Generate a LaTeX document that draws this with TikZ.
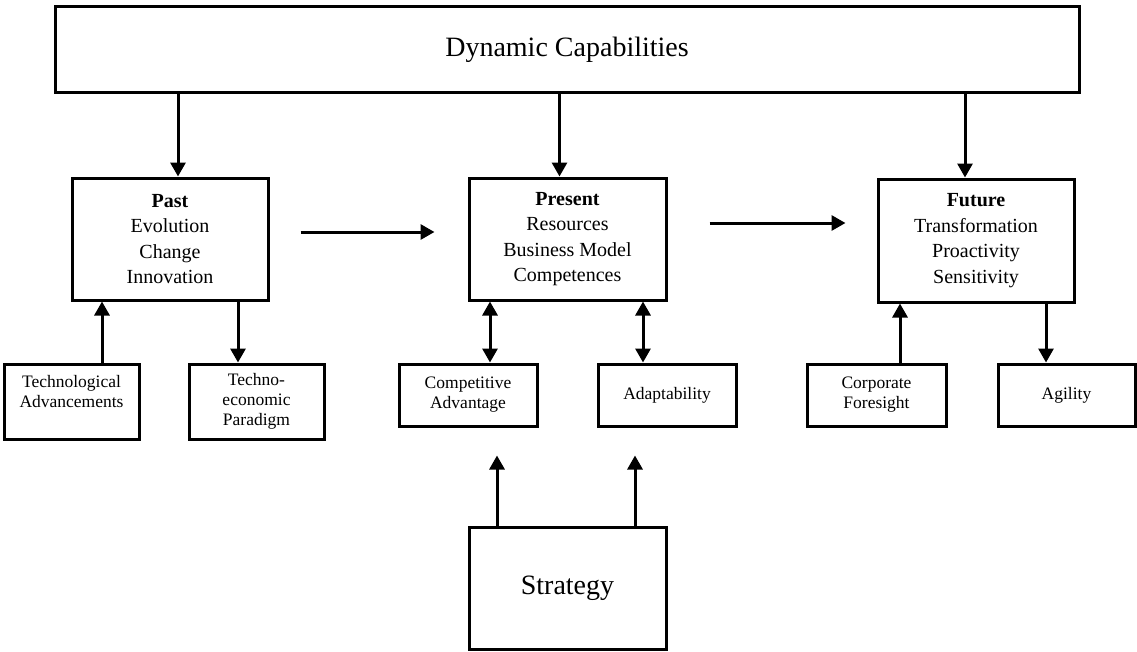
\documentclass[tikz,border=0pt]{standalone}
\usepackage{fontspec}
\setmainfont{Liberation Serif}
\usetikzlibrary{arrows.meta}

\begin{document}
\begin{tikzpicture}[x=1pt, y=-1pt,
    box/.style={draw, line width=3pt, align=center, inner sep=0pt},
    bigtxt/.style={font=\fontsize{28}{34}\selectfont},
    midtxt/.style={font=\fontsize{20}{25.5}\selectfont},
    smalltxt/.style={font=\fontsize{17.5}{20}\selectfont},
    arr/.style={line width=3pt, -{Triangle[length=14pt,width=15pt]}},
    darr/.style={line width=3pt, {Triangle[length=14pt,width=15pt]}-{Triangle[length=14pt,width=15pt]}}]
    \useasboundingbox (0,0) rectangle (1137,651);
    % top
    \node[box, bigtxt, minimum width=1024pt, minimum height=86pt] (dyn) at (567,49.5) {Dynamic Capabilities};
    % time frames
    \node[box, midtxt, minimum width=196pt, minimum height=122pt] (past) at (170,239)
        {\textbf{Past}\\Evolution\\Change\\Innovation};
    \node[box, midtxt, minimum width=197pt, minimum height=122pt] (present) at (567.5,239)
        {\textbf{Present}\\Resources\\Business Model\\Competences};
    \node[box, midtxt, minimum width=196pt, minimum height=123pt] (future) at (976,240.5)
        {\textbf{Future}\\Transformation\\Proactivity\\Sensitivity};
    % lower boxes
    \node[box, smalltxt, minimum width=135pt, minimum height=75pt] (techadv) at (71.5,401.5)
        {Technological\\Advancements\\\mbox{}};
    \node[box, smalltxt, minimum width=135pt, minimum height=75pt] (techeco) at (256.5,401.5)
        {Techno-\\economic\\Paradigm};
    \node[box, smalltxt, minimum width=138pt, minimum height=62pt] (compadv) at (468,395)
        {Competitive\\Advantage};
    \node[box, smalltxt, minimum width=138pt, minimum height=62pt] (adapt) at (667,395) {Adaptability};
    \node[box, smalltxt, minimum width=139pt, minimum height=62pt] (corpfor) at (876.5,395)
        {Corporate\\Foresight};
    \node[box, smalltxt, minimum width=137pt, minimum height=62pt] (agility) at (1066.5,395) {Agility};
    \node[box, bigtxt, minimum width=197pt, minimum height=122pt] (strategy) at (567.5,588) {Strategy};

    % arrows from the top
    \draw[arr] ([xshift=8pt]past.north |- dyn.south) -- ([xshift=8pt]past.north);
    \draw[arr] ([xshift=-8pt]present.north |- dyn.south) -- ([xshift=-8pt]present.north);
    \draw[arr] ([xshift=-11pt]future.north |- dyn.south) -- ([xshift=-11pt]future.north);
    % along the time line
    \draw[arr] ([xshift=31pt,yshift=7pt]past.east) -- ([xshift=-33pt,yshift=7pt]present.west);
    \draw[arr] ([xshift=42pt,yshift=16pt]present.east) -- ([xshift=-31pt,yshift=17.5pt]future.west);
    % between rows
    \draw[arr] ([xshift=30.5pt]techadv.north) -- ([xshift=30.5pt]techadv.north |- past.south);
    \draw[arr] ([xshift=-18.5pt]techeco.north |- past.south) -- ([xshift=-18.5pt]techeco.north);
    \draw[darr] ([xshift=22pt]compadv.north |- present.south) -- ([xshift=22pt]compadv.north);
    \draw[darr] ([xshift=-24pt]adapt.north |- present.south) -- ([xshift=-24pt]adapt.north);
    \draw[arr] ([xshift=23.5pt]corpfor.north) -- ([xshift=23.5pt]corpfor.north |- future.south);
    \draw[arr] ([xshift=-20.5pt]agility.north |- future.south) -- ([xshift=-20.5pt]agility.north);
    % from strategy
    \draw[arr] ([xshift=-70.5pt]strategy.north) -- ([xshift=-70.5pt,yshift=-28pt]strategy.north |- compadv.south);
    \draw[arr] ([xshift=67.5pt]strategy.north) -- ([xshift=67.5pt,yshift=-28pt]strategy.north |- adapt.south);
\end{tikzpicture}
\end{document}
